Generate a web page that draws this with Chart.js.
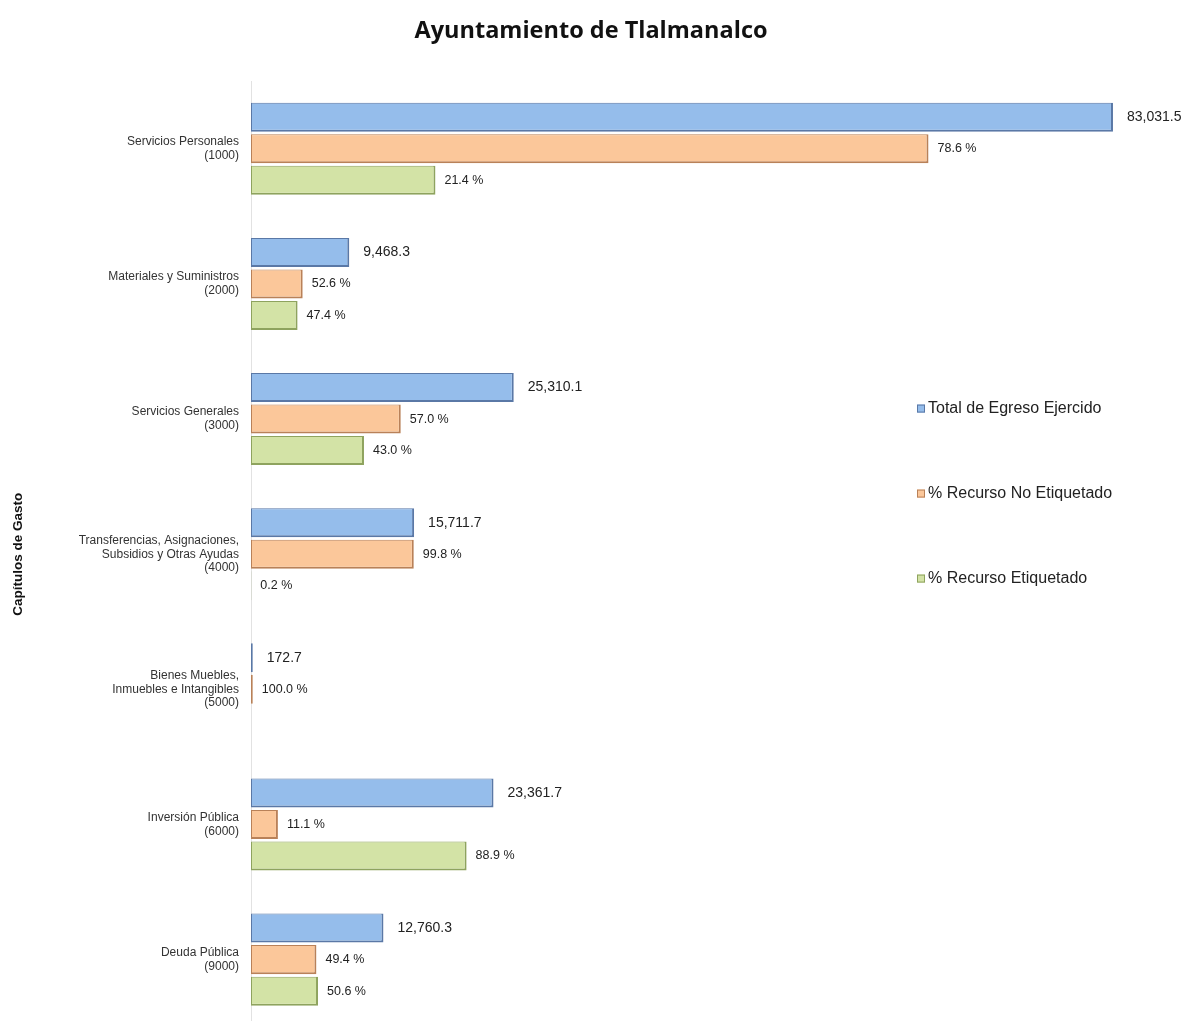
<!DOCTYPE html>
<html>
<head>
<meta charset="utf-8">
<script src="https://cdn.jsdelivr.net/npm/chart.js@4.4.1/dist/chart.umd.min.js"></script>
<style>
  html, body { margin: 0; padding: 0; background: #fff; overflow: hidden; }
  #wrap { width: 1182px; height: 1045px; position: relative; }
</style>
</head>
<body>
<div id="wrap"><canvas id="grafica"></canvas></div>
<script>
// datos del capítulo de gasto
const capitulos = [
    ['Servicios Personales', '(1000)'],
    ['Materiales y Suministros', '(2000)'],
    ['Servicios Generales', '(3000)'],
    ['Transferencias, Asignaciones,', 'Subsidios y Otras Ayudas', '(4000)'],
    ['Bienes Muebles,', 'Inmuebles e Intangibles', '(5000)'],
    ['Inversión Pública', '(6000)'],
    ['Deuda Pública', '(9000)']
];
const totalEgreso = [83031.5, 9468.3, 25310.1, 15711.7, 172.7, 23361.7, 12760.3];
const pctNoEtiquetado = [78.6, 52.6, 57.0, 99.8, 100.0, 11.1, 49.4];
const pctEtiquetado = [21.4, 47.4, 43.0, 0.2, null, 88.9, 50.6];

const nombres = ['Total de Egreso Ejercido', '% Recurso No Etiquetado', '% Recurso Etiquetado'];
const rellenos = ['#95bdeb', '#fbc79a', '#d3e3a6'];
const bordes = ['#5a78a6', '#b98158', '#8ea35e'];

// largo de barra = monto correspondiente al porcentaje
const montoNoEtiq = totalEgreso.map((t, i) => pctNoEtiquetado[i] == null ? null : t * pctNoEtiquetado[i] / 100);
const montoEtiq = totalEgreso.map((t, i) => pctEtiquetado[i] == null ? null : t * pctEtiquetado[i] / 100);

const fmtMiles = v => v.toLocaleString('en-US', { minimumFractionDigits: 1, maximumFractionDigits: 1 });

// etiquetas de valor al final de cada barra
const etiquetasPlugin = {
    id: 'etiquetas',
    afterDatasetsDraw(chart) {
        const ctx = chart.ctx;
        ctx.save();
        ctx.textBaseline = 'middle';
        ctx.textAlign = 'left';
        ctx.fillStyle = '#222';
        chart.data.datasets.forEach((ds, di) => {
            const meta = chart.getDatasetMeta(di);
            meta.data.forEach((el, i) => {
                if (ds.data[i] == null) return;
                let txt, off;
                if (di === 0) {
                    txt = fmtMiles(totalEgreso[i]);
                    ctx.font = '14px "Liberation Sans", Arial, sans-serif';
                    off = 14;
                } else {
                    const p = di === 1 ? pctNoEtiquetado[i] : pctEtiquetado[i];
                    txt = p.toFixed(1) + ' %';
                    ctx.font = '12.5px "Liberation Sans", Arial, sans-serif';
                    off = 9;
                }
                ctx.fillText(txt, el.x + off, el.y);
            });
        });
        ctx.restore();
    }
};

// leyenda dibujada dentro del área de la gráfica
const leyendaPlugin = {
    id: 'leyendaDerecha',
    afterDraw(chart) {
        const ctx = chart.ctx;
        const area = chart.chartArea;
        const x = area.left + 666;
        const y0 = area.top + area.height * 0.345;
        ctx.save();
        ctx.font = '16px "Liberation Sans", Arial, sans-serif';
        ctx.textBaseline = 'middle';
        ctx.textAlign = 'left';
        nombres.forEach((n, i) => {
            const y = y0 + i * 85;
            ctx.fillStyle = rellenos[i];
            ctx.fillRect(x, y - 3, 8, 8);
            ctx.strokeStyle = bordes[i];
            ctx.lineWidth = 1;
            ctx.strokeRect(x + 0.5, y - 2.5, 7, 7);
            ctx.fillStyle = '#222';
            ctx.fillText(n, x + 11, y + 1);
        });
        ctx.restore();
    }
};

function crearSerie(i, datos) {
    return {
        label: nombres[i],
        data: datos,
        backgroundColor: rellenos[i],
        borderColor: bordes[i],
        borderWidth: { top: 1, right: 2, bottom: 2, left: 1 },
        borderSkipped: false,
        categoryPercentage: 0.7,
        barPercentage: 0.92
    };
}

const ctx = document.getElementById('grafica').getContext('2d');
new Chart(ctx, {
    type: 'bar',
    data: {
        labels: capitulos,
        datasets: [
            crearSerie(0, totalEgreso),
            crearSerie(1, montoNoEtiq),
            crearSerie(2, montoEtiq)
        ]
    },
    options: {
        indexAxis: 'y',
        responsive: true,
        maintainAspectRatio: false,
        animation: false,
        layout: { padding: { left: 0, right: 0, top: 0, bottom: 0 } },
        scales: {
            x: {
                display: false,
                min: 0,
                max: 89680
            },
            y: {
                afterFit(s) { s.width = 251; },
                grid: { display: false },
                border: { display: true, color: '#e2e2e2', width: 1 },
                ticks: {
                    color: '#333',
                    padding: 4,
                    font: { family: '"Liberation Sans", Arial, sans-serif', size: 12, lineHeight: 1.15 }
                },
                title: {
                    display: true,
                    text: 'Capítulos de Gasto',
                    color: '#111',
                    padding: { top: 10, bottom: 0 },
                    font: { family: '"Liberation Sans", Arial, sans-serif', size: 13.5, weight: 'bold' }
                }
            }
        },
        plugins: {
            legend: { display: false },
            tooltip: { enabled: false },
            title: {
                display: true,
                text: 'Ayuntamiento de Tlalmanalco',
                color: '#111',
                padding: { top: 17, bottom: 36 },
                font: { family: '"Open Sans", sans-serif', size: 23.5, weight: 'bold' }
            }
        }
    },
    plugins: [etiquetasPlugin, leyendaPlugin]
});
</script>
</body>
</html>
